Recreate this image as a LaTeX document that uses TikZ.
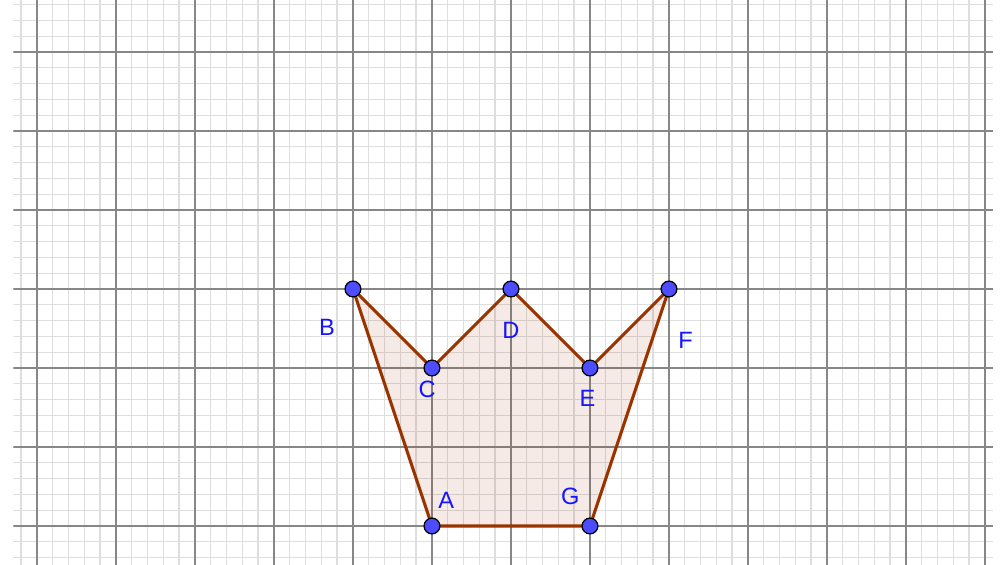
\documentclass[tikz,border=0pt]{standalone}
\usepackage{fontspec}
\setmainfont{Liberation Sans}
\definecolor{gridmajor}{RGB}{135,135,135}
\definecolor{gridminor}{RGB}{222,222,222}
\definecolor{edgebrown}{RGB}{153,51,0}
\definecolor{pointblue}{RGB}{77,77,255}
\definecolor{labelblue}{RGB}{20,20,255}

\begin{document}
\begin{tikzpicture}[x=1cm, y=1cm,
    minorgrid/.style={line width=0.5pt, gridminor},
    majorgrid/.style={line width=0.75pt, gridmajor},
    edge/.style={line width=1.1pt, edgebrown, line join=round, line cap=round},
    crown/.style={edge, fill=edgebrown, fill opacity=0.1},
    point/.style={circle, draw=black, line width=0.45pt, fill=pointblue, inner sep=0pt, minimum size=0.2cm},
    lbl/.style={text=labelblue, font=\fontsize{8.5}{10}\selectfont, inner sep=0pt}]
  \useasboundingbox (-5.468,-0.481) rectangle (7.19,6.658);
  % background grid, one major cell = one unit, five minor cells in it
  \begin{scope}
    \clip (-5.3,-0.481) rectangle (7.1,6.658);
    \draw[minorgrid, step=0.2] (-5.6,-0.6) grid (7.4,6.8);
    \draw[majorgrid, step=1] (-5.6,-0.6) grid (7.4,6.8);
  \end{scope}

  % the vertices of the crown
  \coordinate (A) at (0,0);
  \coordinate (B) at (-1,3);
  \coordinate (C) at (0,2);
  \coordinate (D) at (1,3);
  \coordinate (E) at (2,2);
  \coordinate (F) at (3,3);
  \coordinate (G) at (2,0);

  % the polygon A-B-C-D-E-F-G
  \draw[crown] (A) -- (B) -- (C) -- (D) -- (E) -- (F) -- (G) -- cycle;

  % points and their names
  \foreach \p in {A,B,C,D,E,F,G}
    \node[point] (pt\p) at (\p) {};
  \node[lbl] (labA) at (0.18,0.32) {A};
  \node[lbl] (labB) at (-1.33,2.51) {B};
  \node[lbl] (labC) at (-0.06,1.73) {C};
  \node[lbl] (labD) at (1.0,2.47) {D};
  \node[lbl] (labE) at (1.97,1.62) {E};
  \node[lbl] (labF) at (3.21,2.35) {F};
  \node[lbl] (labG) at (1.75,0.38) {G};
\end{tikzpicture}
\end{document}
